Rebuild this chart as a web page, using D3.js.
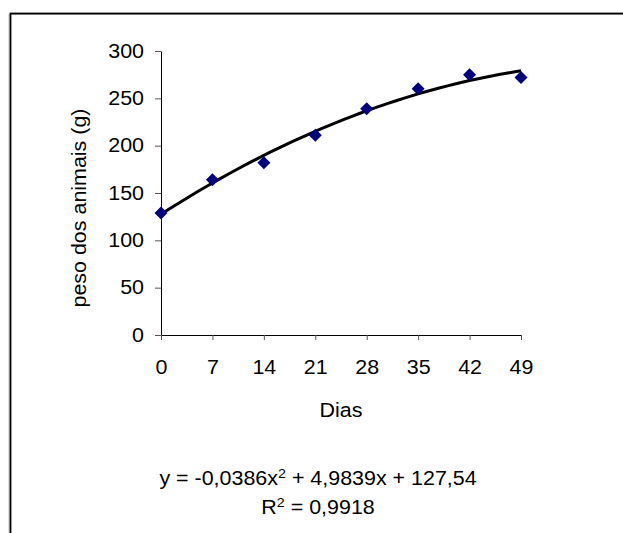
<!DOCTYPE html>
<html>
<head>
<meta charset="utf-8">
<script src="https://cdn.jsdelivr.net/npm/d3@7"></script>
<style>
  body { margin: 0; background: #fff; }
  text { font-family: 'Liberation Sans', Arial, sans-serif; fill: #000; }
</style>
</head>
<body>
<script>
(function (d3) {
  'use strict';

  // observed weights per day
  const dias = [0, 7, 14, 21, 28, 35, 42, 49];
  const peso = [129, 164, 182, 211, 239, 260, 275, 272];

  const yTicks = [0, 50, 100, 150, 200, 250, 300];

  // polynomial trendline as printed on the chart: c0 + c1*x + c2*x^2
  const trendCoef = [127.54, 4.9839, -0.0386];
  const trendDays = d3.range(0, 50, 1);

  const xTitle = 'Dias';
  const yTitle = 'peso dos animais (g)';

  const width = 623;
  const height = 533;
  const margin = { top: 51, right: 102, bottom: 198, left: 161 };
  const fontSize = 19.5;
  const stretch = 1.1; // text in the original is drawn a bit wider than it is tall

  const svg = d3.select('body')
    .append('svg')
    .attr('width', width)
    .attr('height', height);

  // chart border (runs off the right/bottom of the picture)
  svg.append('rect')
    .attr('x', 9)
    .attr('y', 14.5)
    .attr('width', 700)
    .attr('height', 600)
    .attr('fill', 'none')
    .attr('stroke', '#bbb')
    .attr('stroke-width', 1);
  svg.append('rect')
    .attr('x', 10.5)
    .attr('y', 13.5)
    .attr('width', 700)
    .attr('height', 600)
    .attr('fill', 'none')
    .attr('stroke', '#000')
    .attr('stroke-width', 1.8);

  const x = d3.scaleLinear()
    .domain([0, 49])
    .range([margin.left, width - margin.right]);

  const y = d3.scaleLinear()
    .domain([0, 300])
    .range([height - margin.bottom, margin.top]);

  const yAxis = svg.append('g')
    .attr('transform', `translate(${margin.left},0)`)
    .call(d3.axisLeft(y)
      .tickValues(yTicks)
      .tickSize(6)
      .tickSizeOuter(0)
      .tickPadding(11));

  const xAxis = svg.append('g')
    .attr('transform', `translate(0,${height - margin.bottom})`)
    .call(d3.axisBottom(x)
      .tickValues(dias)
      .tickSize(5)
      .tickSizeOuter(0)
      .tickPadding(20));

  [xAxis, yAxis].forEach((g) => {
    g.selectAll('text')
      .style('font-family', "'Liberation Sans', Arial, sans-serif")
      .style('font-size', fontSize + 'px')
      .attr('fill', '#000')
      .attr('x', function () { return (+d3.select(this).attr('x') || 0) / stretch; })
      .attr('transform', `scale(${stretch},1)`);
    g.select('.domain').attr('stroke', '#000');
    g.selectAll('.tick line').attr('stroke', '#555');
  });

  // trendline
  const trend = (d) => trendCoef[0] + trendCoef[1] * d + trendCoef[2] * d * d;
  const line = d3.line()
    .x((d) => x(d))
    .y((d) => y(trend(d)));

  svg.append('path')
    .datum(trendDays.concat([49]))
    .attr('d', line)
    .attr('fill', 'none')
    .attr('stroke', '#000')
    .attr('stroke-width', 3)
    .attr('stroke-linejoin', 'round');

  // data markers
  const points = dias.map((d, i) => ({ dia: d, peso: peso[i] }));
  svg.selectAll('.marker')
    .data(points)
    .join('path')
    .attr('class', 'marker')
    .attr('transform', (d) => `translate(${x(d.dia)},${y(d.peso)})`)
    .attr('d', 'M0,-6.5L6.5,0L0,6.5L-6.5,0Z')
    .attr('fill', '#000080');

  // titles
  svg.append('text')
    .attr('transform', `translate(${(x(0) + x(49)) / 2},417) scale(${stretch},1)`)
    .attr('text-anchor', 'middle')
    .style('font-size', fontSize + 'px')
    .text(xTitle);

  svg.append('text')
    .attr('transform', `translate(86,208) rotate(-90) scale(${stretch},1)`)
    .attr('text-anchor', 'middle')
    .style('font-size', fontSize + 'px')
    .text(yTitle);

  // trendline equation
  const eq = svg.append('text')
    .attr('transform', `translate(318,485) scale(${stretch},1)`)
    .attr('text-anchor', 'middle')
    .style('font-size', fontSize + 'px');
  eq.append('tspan').text('y = -0,0386x');
  eq.append('tspan').attr('dy', -7).style('font-size', '13px').text('2');
  eq.append('tspan').attr('dy', 7).text(' + 4,9839x + 127,54');

  const r2 = svg.append('text')
    .attr('transform', `translate(318,514) scale(${stretch},1)`)
    .attr('text-anchor', 'middle')
    .style('font-size', fontSize + 'px');
  r2.append('tspan').text('R');
  r2.append('tspan').attr('dy', -7).style('font-size', '13px').text('2');
  r2.append('tspan').attr('dy', 7).text(' = 0,9918');

})(d3);
</script>
</body>
</html>
